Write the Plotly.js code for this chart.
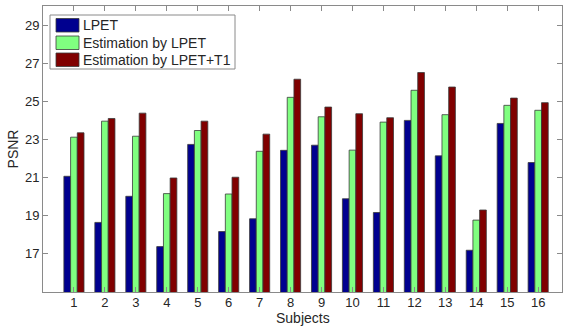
<!DOCTYPE html>
<html>
<head>
<meta charset="utf-8">
<script src="https://cdn.plot.ly/plotly-3.0.1.min.js"></script>
<style>
html,body{margin:0;padding:0;background:#fff;}
#chart{width:563px;height:327px;}
</style>
</head>
<body>
<div id="chart"></div>
<script>
const subjects = [1,2,3,4,5,6,7,8,9,10,11,12,13,14,15,16];
const lpet      = [21.07,18.65,20.02,17.38,22.74,18.17,18.84,22.43,22.70,19.89,19.17,24.00,22.14,17.19,23.84,21.79];
const estLpet   = [23.12,23.96,23.17,20.16,23.47,20.14,22.38,25.21,24.19,22.44,23.91,25.58,24.30,18.77,24.79,24.53];
const estLpetT1 = [23.35,24.10,24.38,20.98,23.96,21.02,23.28,26.16,24.70,24.35,24.14,26.51,25.75,19.30,25.17,24.93];
const seriesNames = ['LPET','Estimation by LPET','Estimation by LPET+T1'];
const seriesColors = ['#00008f','#80ff80','#800000'];
const yTicks = [17,19,21,23,25,27,29];

const seriesValues = [lpet, estLpet, estLpetT1];
const traces = seriesValues.map((vals,i)=>({
  type:'bar', x:subjects, y:vals, name:seriesNames[i],
  marker:{color:seriesColors[i], line:{color:'#3a3a3a', width:0.8}},
  showlegend:false, hoverinfo:'skip'
}));

const fontFam = 'Liberation Sans, Arial, sans-serif';
const txtCol = '#262626';
const axCol = '#8a8a8a';

// custom legend (wide swatches like the original)
const shapes = [{
  type:'rect', xref:'paper', yref:'paper',
  x0:(50-43)/519, x1:(235-43)/519, y0:(292-69)/286, y1:(292-15)/286,
  line:{color:axCol, width:1}, fillcolor:'#fff', layer:'above'
}];
const annotations = [];
const rowTop = [18.5, 36, 53];
seriesNames.forEach((n,i)=>{
  shapes.push({type:'rect', xref:'paper', yref:'paper',
    x0:(56-43)/519, x1:(79-43)/519,
    y0:(292-(rowTop[i]+13.5))/286, y1:(292-rowTop[i])/286,
    fillcolor:seriesColors[i], line:{color:'#3a3a3a', width:0.8}, layer:'above'});
  annotations.push({xref:'paper', yref:'paper', x:(81-43)/519, y:(292-(rowTop[i]+6.75))/286,
    xanchor:'left', yanchor:'middle', showarrow:false, text:n,
    font:{family:fontFam, size:14, color:txtCol}});
});
// x-axis title placed to match the original position
annotations.push({xref:'paper', yref:'paper', x:0.5, y:-(318-292)/286,
  xanchor:'center', yanchor:'middle', showarrow:false, text:'Subjects',
  font:{family:fontFam, size:14, color:txtCol}});

const layout = {
  width:563, height:327,
  margin:{l:43, r:1, t:6, b:35},
  paper_bgcolor:'#fff', plot_bgcolor:'#fff',
  barmode:'group', bargap:0.35, bargroupgap:0,
  font:{family:fontFam, color:txtCol},
  xaxis:{
    range:[0,16.77], tickvals:subjects, ticktext:subjects.map(String),
    ticks:'inside', ticklen:5, tickcolor:axCol, tickwidth:1,
    showline:true, linecolor:axCol, linewidth:1, mirror:'ticks',
    showgrid:false, zeroline:false, ticklabelstandoff:-2,
    tickfont:{size:13, color:txtCol}
  },
  yaxis:{
    range:[15,30.0], tickvals:yTicks, ticktext:yTicks.map(String),
    ticks:'inside', ticklen:5, tickcolor:axCol, tickwidth:1,
    showline:true, linecolor:axCol, linewidth:1, mirror:'ticks',
    showgrid:false, zeroline:false,
    tickfont:{size:13, color:txtCol},
    title:{text:'PSNR', font:{size:14, color:txtCol}, standoff:3}
  },
  shapes:shapes, annotations:annotations
};
Plotly.newPlot('chart', traces, layout, {displayModeBar:false, staticPlot:true});
</script>
</body>
</html>
